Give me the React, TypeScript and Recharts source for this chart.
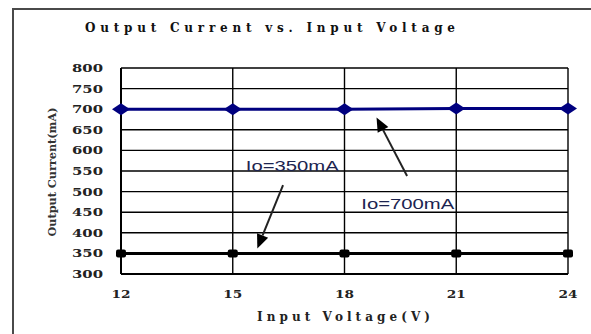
import { LineChart, Line, XAxis, YAxis, CartesianGrid, ReferenceLine, ReferenceDot } from "recharts";

const voltages = [12, 15, 18, 21, 24];
const current700 = [700, 700, 700, 702, 702];
const current350 = [350, 350, 350, 350, 350];
const xTicks = [12, 15, 18, 21, 24];
const yTicks = [300, 350, 400, 450, 500, 550, 600, 650, 700, 750, 800];

// callouts, in data units (V, mA)
const noteLabels = ["Io=350mA", "Io=700mA"];
const noteAnchors = [
  { x: 15.35, y: 561 },
  { x: 18.45, y: 469 },
];
const arrowSegments = [
  [{ x: 16.35, y: 516 }, { x: 15.66, y: 362 }],
  [{ x: 19.68, y: 538 }, { x: 18.86, y: 680 }],
];

const data = voltages.map((v, i) => ({ v, hi: current700[i], lo: current350[i] }));

const blockFont = "'DejaVu Serif', 'Liberation Serif', serif";

function Diamond({ cx, cy }: any) {
  return <polygon points={`${cx - 9},${cy} ${cx},${cy - 6} ${cx + 9},${cy} ${cx},${cy + 6}`} fill="#00007f" />;
}

function Square({ cx, cy }: any) {
  return <rect x={cx - 5} y={cy - 4} width={10} height={8} rx={2} fill="#000" />;
}

function XTick({ x, y, payload }: any) {
  return (
    <text x={x} y={y + 24} textAnchor="middle" fontFamily={blockFont} fontWeight="bold" fontSize={11}
      textLength={19} lengthAdjust="spacingAndGlyphs" fill="#222">
      {payload.value}
    </text>
  );
}

function YTick({ x, y, payload }: any) {
  return (
    <text x={x - 18} y={y + 4} textAnchor="end" fontFamily={blockFont} fontWeight="bold" fontSize={11}
      textLength={31} lengthAdjust="spacingAndGlyphs" fill="#222">
      {payload.value}
    </text>
  );
}

function Arrow(props: any) {
  const { x1, y1, x2, y2 } = props;
  const ang = Math.atan2(y2 - y1, x2 - x1);
  const len = 14;
  const half = 6;
  const bx = x2 - len * Math.cos(ang);
  const by = y2 - len * Math.sin(ang);
  const px = -Math.sin(ang) * half;
  const py = Math.cos(ang) * half;
  return (
    <g>
      <line x1={x1} y1={y1} x2={bx} y2={by} stroke="#222" strokeWidth={2} />
      <polygon points={`${x2},${y2} ${bx + px},${by + py} ${bx - px},${by - py}`} fill="#000" />
    </g>
  );
}

function NoteText(text: string) {
  return ({ cx, cy }: any) => (
    <text x={cx} y={cy + 5} fontFamily="'Liberation Sans', Arial, sans-serif" fontSize={14}
      textLength={93} lengthAdjust="spacingAndGlyphs" fill="#1c2450">
      {text}
    </text>
  );
}

export default function App() {
  return (
    <div style={{ position: "fixed", left: 0, top: 0, width: 591, height: 334, overflow: "hidden", background: "#fff" }}>
      <div style={{ position: "absolute", left: 12, top: 8, width: 640, height: 380, border: "2px solid #4a4a4a" }} />
      <div style={{ position: "absolute", left: 0, top: 0 }}>
        <LineChart width={591} height={334} data={data} margin={{ top: 68, right: 23, bottom: 30, left: 61 }}>
          <CartesianGrid stroke="#000" strokeWidth={1.4} />
          <XAxis
            dataKey="v"
            type="number"
            domain={[12, 24]}
            ticks={xTicks}
            interval={0}
            height={30}
            tickLine={false}
            tickSize={0}
            tickMargin={0}
            axisLine={{ stroke: "#000", strokeWidth: 2 }}
            tick={<XTick />}
          />
          <YAxis
            type="number"
            domain={[300, 800]}
            ticks={yTicks}
            interval={0}
            width={60}
            tickLine={false}
            tickSize={0}
            tickMargin={0}
            axisLine={{ stroke: "#000", strokeWidth: 2 }}
            tick={<YTick />}
          />
          <ReferenceLine segment={arrowSegments[0]} shape={Arrow} />
          <ReferenceLine segment={arrowSegments[1]} shape={Arrow} />
          <ReferenceDot x={noteAnchors[0].x} y={noteAnchors[0].y} r={0} shape={NoteText(noteLabels[0])} />
          <ReferenceDot x={noteAnchors[1].x} y={noteAnchors[1].y} r={0} shape={NoteText(noteLabels[1])} />
          <Line type="linear" dataKey="lo" stroke="#000" strokeWidth={3} dot={<Square />} isAnimationActive={false} />
          <Line type="linear" dataKey="hi" stroke="#00007f" strokeWidth={3} dot={<Diamond />} isAnimationActive={false} />
        </LineChart>
      </div>
      <svg width={591} height={334} style={{ position: "absolute", left: 0, top: 0, pointerEvents: "none" }}>
        <text x={85} y={32} fontFamily={blockFont} fontWeight="bold" fontSize={12} textLength={370}
          lengthAdjust="spacing" fill="#111">
          Output Current vs. Input Voltage
        </text>
        <text x={257} y={321} fontFamily={blockFont} fontWeight="bold" fontSize={12} textLength={173}
          lengthAdjust="spacing" fill="#222">
          Input Voltage(V)
        </text>
        <text x={0} y={0} transform="translate(56,172) rotate(-90)" textAnchor="middle" fontFamily={blockFont}
          fontWeight="bold" fontSize={11} textLength={129} lengthAdjust="spacingAndGlyphs" fill="#333">
          Output Current(mA)
        </text>
      </svg>
    </div>
  );
}
